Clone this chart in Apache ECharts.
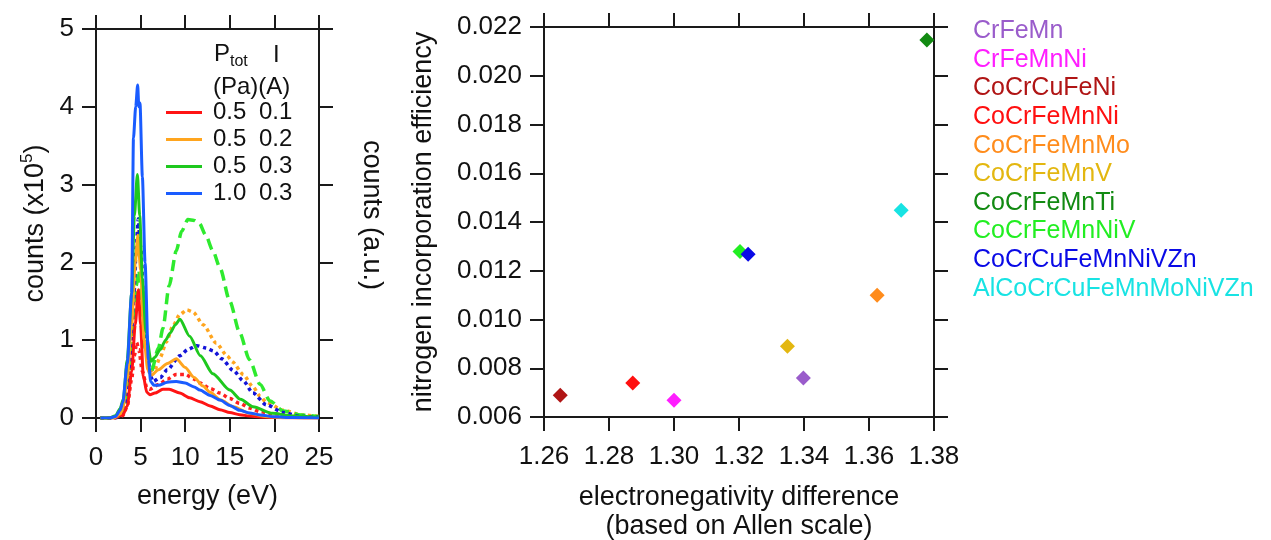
<!DOCTYPE html>
<html>
<head>
<meta charset="utf-8">
<script src="https://cdn.jsdelivr.net/npm/echarts@6/dist/echarts.min.js"></script>
<style>
html,body{margin:0;padding:0;background:#fff;}
#c{width:1271px;height:540px;}
</style>
</head>
<body>
<div id="c"></div>
<script>
// ---------- Left panel: energy spectra (counts x10^5 vs energy eV) ----------
const redSolidE = [0.5, 2.0, 3.0, 3.5, 4.0, 4.4, 4.75, 5.0, 5.3, 5.7, 6.05, 6.6, 7.5, 8.2, 9.4, 10.5, 11.65, 12.8, 13.9, 15.0, 16.1, 17.2, 18.4, 20.0, 22.0, 25.0];
const redSolidC = [0, 0, 0.04, 0.15, 0.6, 1.2, 1.65, 1.2, 0.54, 0.33, 0.3, 0.32, 0.37, 0.37, 0.32, 0.26, 0.21, 0.155, 0.107, 0.07, 0.043, 0.025, 0.013, 0.005, 0.002, 0];

const redDotE = [0.5, 2.0, 3.0, 3.5, 4.0, 4.3, 4.56, 4.8, 5.2, 5.7, 6.0, 7.0, 8.0, 9.0, 10.0, 11.0, 11.65, 12.8, 13.9, 15.0, 16.1, 17.2, 18.4, 20.0, 22.0, 25.0];
const redDotC = [0, 0, 0.03, 0.15, 0.5, 0.8, 0.97, 0.88, 0.6, 0.39, 0.37, 0.43, 0.5, 0.56, 0.56, 0.5, 0.45, 0.38, 0.32, 0.25, 0.19, 0.13, 0.08, 0.05, 0.02, 0.01];

const orangeSolidE = [0.5, 2.0, 2.7, 3.0, 3.5, 4.0, 4.4, 4.7, 5.0, 5.4, 5.8, 6.2, 7.0, 8.0, 9.0, 10.0, 11.0, 12.0, 12.8, 14.0, 15.4, 17.2, 19.0, 21.0, 25.0];
const orangeSolidC = [0, 0, 0.05, 0.12, 0.5, 1.2, 2.0, 2.35, 1.9, 1.0, 0.62, 0.55, 0.62, 0.7, 0.76, 0.65, 0.52, 0.41, 0.33, 0.23, 0.145, 0.06, 0.02, 0.005, 0];

const orangeDotE = [0.5, 2.0, 3.0, 3.5, 3.8, 4.2, 4.5, 4.75, 5.0, 5.5, 6.05, 6.5, 7.2, 7.9, 8.6, 9.4, 10.2, 10.9, 12.0, 13.5, 14.7, 15.3, 16.5, 17.6, 18.4, 19.1, 21.0, 23.0, 25.0];
const orangeDotC = [0, 0, 0.05, 0.3, 0.6, 1.4, 2.1, 2.47, 2.1, 0.97, 0.62, 0.6, 0.78, 0.98, 1.18, 1.33, 1.39, 1.36, 1.2, 0.96, 0.8, 0.72, 0.56, 0.40, 0.28, 0.2, 0.1, 0.04, 0.02];

const greenSolidE = [0.5, 1.5, 2.2, 2.7, 3.06, 3.5, 4.0, 4.3, 4.64, 4.9, 5.2, 5.6, 6.17, 6.6, 7.2, 7.8, 8.3, 8.9, 9.4, 10.5, 11.7, 13.1, 15.0, 16.2, 17.6, 19.8, 22.0, 25.0];
const greenSolidC = [0, 0, 0.03, 0.12, 0.24, 0.75, 1.6, 2.6, 3.13, 2.6, 1.8, 1.1, 0.73, 0.78, 0.88, 1.0, 1.09, 1.2, 1.27, 1.05, 0.8, 0.57, 0.36, 0.24, 0.145, 0.06, 0.025, 0.01];

const greenDashE = [0.5, 2.0, 3.0, 3.5, 3.8, 4.2, 4.5, 4.8, 5.1, 5.5, 6.2, 7.0, 7.5, 8.2, 9.0, 9.6, 10.3, 11.0, 11.6, 12.3, 13.1, 13.9, 15.0, 16.1, 17.2, 18.4, 19.5, 21.0, 23.0, 25.0];
const greenDashC = [0, 0, 0.05, 0.3, 0.6, 1.2, 1.7, 1.9, 1.5, 0.9, 0.6, 0.9, 1.15, 1.7, 2.15, 2.4, 2.55, 2.54, 2.5, 2.35, 2.15, 1.93, 1.5, 1.1, 0.75, 0.43, 0.22, 0.09, 0.04, 0.015];

const blueSolidE = [0.5, 1.5, 2.2, 2.7, 3.0, 3.5, 4.0, 4.2, 4.45, 4.67, 4.8, 4.93, 5.2, 5.5, 5.87, 6.13, 6.5, 7.0, 8.0, 9.0, 10.0, 11.0, 11.65, 12.8, 13.9, 15.0, 16.1, 17.2, 18.4, 20.0, 22.0, 25.0];
const blueSolidC = [0, 0, 0.02, 0.1, 0.2, 0.7, 1.6, 3.6, 4.0, 4.28, 4.0, 4.05, 3.1, 2.0, 0.75, 0.47, 0.42, 0.42, 0.46, 0.47, 0.45, 0.4, 0.36, 0.29, 0.23, 0.16, 0.1, 0.065, 0.04, 0.015, 0.005, 0];

const blueDotE = [0.5, 2.0, 2.5, 3.06, 3.5, 3.8, 4.2, 4.5, 4.75, 5.0, 5.5, 6.1, 6.4, 7.2, 8.0, 9.4, 10.3, 11.3, 12.3, 13.2, 14.1, 15.4, 16.5, 17.6, 19.1, 21.0, 23.0, 25.0];
const blueDotC = [0, 0, 0.01, 0.06, 0.32, 0.62, 1.5, 2.2, 2.56, 2.2, 1.05, 0.54, 0.47, 0.52, 0.62, 0.8, 0.88, 0.93, 0.9, 0.86, 0.76, 0.61, 0.48, 0.32, 0.17, 0.07, 0.02, 0.01];

const legendLeftNames = ['0.5 0.1', '0.5 0.2', '0.5 0.3', '1.0 0.3'];
const energyTicks = [0, 25, 5];
const countsTicks = [0, 5, 1];

// ---------- Right panel: nitrogen incorporation efficiency ----------
const alloys = ['CrFeMn', 'CrFeMnNi', 'CoCrCuFeNi', 'CoCrFeMnNi', 'CoCrFeMnMo', 'CoCrFeMnV', 'CoCrFeMnTi', 'CoCrFeMnNiV', 'CoCrCuFeMnNiVZn', 'AlCoCrCuFeMnMoNiVZn'];
const enDiff = [1.3398, 1.3000, 1.2650, 1.2873, 1.3625, 1.3349, 1.3778, 1.3203, 1.3228, 1.3699];
const nEff = [0.0076, 0.00669, 0.00689, 0.0074, 0.0110, 0.0089, 0.02147, 0.01279, 0.01268, 0.01448];
const alloyColors = ['#9A5CCB', '#FF1EFF', '#B01515', '#FF1010', '#FF8C1C', '#E3B710', '#128A12', '#22EE22', '#0A0AE6', '#18E3E3'];
const enTicks = [1.26, 1.38, 0.02];
const effTicks = [0.006, 0.022, 0.002];

const FONT = 'Liberation Sans, Arial, Helvetica, sans-serif';
const AX = '#1a1a1a';

function pairs(e, c) { return e.map((v, i) => [v, c[i]]); }

function mkAxis(opts) {
  return Object.assign({
    axisLine: { show: true, onZero: false, lineStyle: { color: AX, width: 2 } },
    axisTick: { show: true, inside: false, length: 14, lineStyle: { color: AX, width: 2 } },
    splitLine: { show: false },
    axisLabel: { show: true, color: '#111', fontSize: 26, fontFamily: FONT, margin: 27 }
  }, opts);
}
function mirror(opts) {
  const a = mkAxis(opts);
  a.axisLabel = { show: false };
  return a;
}

const chart = echarts.init(document.getElementById('c'), null, { renderer: 'canvas' });

function lineSeries(name, e, c, color, type, width, z) {
  return {
    type: 'line', name: name, xAxisIndex: 0, yAxisIndex: 0,
    data: pairs(e, c), showSymbol: false, symbol: 'none',
    smooth: 0.25, smoothMonotone: 'x', z: z,
    lineStyle: { color: color, width: width, type: type },
    itemStyle: { color: color }, silent: true, animation: false
  };
}

const series = [
  lineSeries('redDot', redDotE, redDotC, '#FF2020', 'dotted', 3.5, 2),
  lineSeries('orangeDot', orangeDotE, orangeDotC, '#FFA51E', 'dotted', 3.5, 2),
  lineSeries('greenDash', greenDashE, greenDashC, '#2EEA2E', [11, 6], 3.5, 2),
  lineSeries('blueDot', blueDotE, blueDotC, '#1414D8', 'dotted', 3.5, 2),
  lineSeries(legendLeftNames[0], redSolidE, redSolidC, '#FF1414', 'solid', 3, 3),
  lineSeries(legendLeftNames[1], orangeSolidE, orangeSolidC, '#FFA51E', 'solid', 3, 3),
  lineSeries(legendLeftNames[2], greenSolidE, greenSolidC, '#1EC81E', 'solid', 3, 3),
  lineSeries(legendLeftNames[3], blueSolidE, blueSolidC, '#1A5CFF', 'solid', 3, 4)
];
alloys.forEach((name, i) => {
  series.push({
    type: 'scatter', name: name, xAxisIndex: 2, yAxisIndex: 2,
    data: [[enDiff[i], nEff[i]]], symbol: 'diamond', symbolSize: 15,
    itemStyle: { color: alloyColors[i], opacity: 1 }, animation: false
  });
});

const option = {
  backgroundColor: '#ffffff',
  animation: false,
  textStyle: { fontFamily: FONT },
  grid: [
    { left: 96, top: 29, width: 223, height: 389, containLabel: false, outerBoundsMode: 'none' },
    { left: 544, top: 27, width: 390, height: 390, containLabel: false, outerBoundsMode: 'none' }
  ],
  xAxis: [
    mkAxis({ type: 'value', gridIndex: 0, position: 'bottom', min: energyTicks[0], max: energyTicks[1], interval: energyTicks[2],
      name: 'energy (eV)', nameLocation: 'middle', nameGap: 65,
      nameTextStyle: { fontSize: 27, color: '#111', fontFamily: FONT } }),
    mirror({ type: 'value', gridIndex: 0, position: 'top', min: energyTicks[0], max: energyTicks[1], interval: energyTicks[2] }),
    mkAxis({ type: 'value', gridIndex: 1, position: 'bottom', min: enTicks[0], max: enTicks[1], interval: enTicks[2],
      axisLabel: { show: true, color: '#111', fontSize: 26, fontFamily: FONT, margin: 27, formatter: v => v.toFixed(2) },
      name: 'electronegativity difference\n(based on Allen scale)', nameLocation: 'middle', nameGap: 66,
      nameTextStyle: { fontSize: 27, lineHeight: 29, color: '#111', fontFamily: FONT } }),
    mirror({ type: 'value', gridIndex: 1, position: 'top', min: enTicks[0], max: enTicks[1], interval: enTicks[2] })
  ],
  yAxis: [
    mkAxis({ type: 'value', gridIndex: 0, position: 'left', min: countsTicks[0], max: countsTicks[1], interval: countsTicks[2],
      axisLabel: { show: true, color: '#111', fontSize: 26, fontFamily: FONT, margin: 22 },
      name: '{a|counts (x10}{s|5}{a|)}', nameLocation: 'middle', nameGap: 43, nameRotate: 90,
      nameTextStyle: { rich: {
        a: { fontSize: 27, color: '#111', fontFamily: FONT, lineHeight: 34 },
        s: { fontSize: 17, color: '#111', fontFamily: FONT, lineHeight: 34, verticalAlign: 'top' }
      } } }),
    mirror({ type: 'value', gridIndex: 0, position: 'right', min: countsTicks[0], max: countsTicks[1], interval: countsTicks[2] }),
    mkAxis({ type: 'value', gridIndex: 1, position: 'left', min: effTicks[0], max: effTicks[1], interval: effTicks[2],
      axisLabel: { show: true, color: '#111', fontSize: 26, fontFamily: FONT, margin: 22, formatter: v => v.toFixed(3) },
      name: 'nitrogen incorporation efficiency', nameLocation: 'middle', nameGap: 107, nameRotate: 90,
      nameTextStyle: { fontSize: 27, color: '#111', fontFamily: FONT } }),
    mirror({ type: 'value', gridIndex: 1, position: 'right', min: effTicks[0], max: effTicks[1], interval: effTicks[2] })
  ],
  legend: [
    {
      data: legendLeftNames, orient: 'vertical', left: 166, top: 99, padding: 0,
      icon: 'rect', itemWidth: 36, itemHeight: 3, itemGap: 0, selectedMode: false,
      formatter: function (n) { const p = n.split(' '); return '{g|}{a|' + p[0] + '}{b|' + p[1] + '}'; },
      textStyle: { fontSize: 24, color: '#111', fontFamily: FONT, lineHeight: 27,
        rich: {
          g: { width: 6, lineHeight: 27 },
          a: { width: 46, fontSize: 24, fontFamily: FONT, color: '#111', lineHeight: 27 },
          b: { fontSize: 24, fontFamily: FONT, color: '#111', lineHeight: 27 } } }
    },
    {
      data: alloys.map((n, i) => ({ name: n, textStyle: { color: alloyColors[i] } })),
      orient: 'vertical', left: 968, top: 17, padding: 0,
      icon: 'rect', itemWidth: 0, itemHeight: 0, itemGap: 0, selectedMode: false,
      textStyle: { fontSize: 25, fontFamily: FONT, lineHeight: 28.6 }
    }
  ],
  graphic: [
    { type: 'text', left: 214, top: 42, silent: true,
      style: { text: '{p|P}{t|tot}', rich: {
        p: { fontSize: 24, fontFamily: FONT, fill: '#111', lineHeight: 30 },
        t: { fontSize: 16, fontFamily: FONT, fill: '#111', lineHeight: 32, verticalAlign: 'bottom' } } } },
    { type: 'text', left: 273, top: 43, silent: true,
      style: { text: 'I', fontSize: 24, fontFamily: FONT, fill: '#111' } },
    { type: 'text', left: 213, top: 75, silent: true,
      style: { text: '(Pa)(A)', fontSize: 24, fontFamily: FONT, fill: '#111' } },
    { type: 'text', x: 371, y: 215, rotation: -Math.PI / 2, silent: true,
      style: { text: 'counts (a.u.)', fontSize: 27, fontFamily: FONT, fill: '#111', align: 'center', verticalAlign: 'middle' } }
  ],
  series: series
};
chart.setOption(option);
</script>
</body>
</html>
